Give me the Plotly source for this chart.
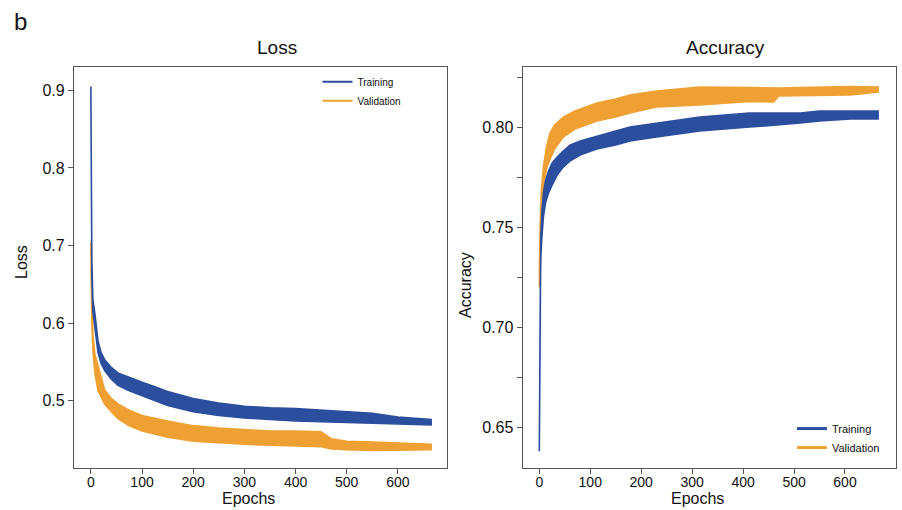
import plotly.graph_objects as go

# ---- data (band upper / lower edges) ----
tl_epochs = [0, 1, 2, 4, 8, 14, 20, 27, 40, 53, 75, 100, 125, 150, 200, 250, 300, 350, 400, 450, 500, 550, 600, 665]
tl_hi = [0.905, 0.76, 0.68, 0.63, 0.612, 0.577, 0.562, 0.553, 0.543, 0.536, 0.530, 0.524, 0.518, 0.512, 0.503,
         0.497, 0.493, 0.491, 0.490, 0.488, 0.486, 0.484, 0.479, 0.476]
tl_lo = [0.905, 0.74, 0.66, 0.615, 0.592, 0.562, 0.548, 0.539, 0.528, 0.520, 0.513, 0.506, 0.500, 0.494, 0.486,
         0.481, 0.478, 0.476, 0.474, 0.473, 0.472, 0.471, 0.470, 0.469]

vl_epochs = [0, 1, 2, 4, 8, 14, 20, 27, 40, 53, 75, 100, 150, 200, 250, 300, 350, 400, 450, 470, 500, 550, 600, 665]
vl_hi = [0.705, 0.66, 0.62, 0.585, 0.56, 0.545, 0.530, 0.514, 0.503, 0.496, 0.488, 0.481, 0.474, 0.468, 0.465,
         0.463, 0.461, 0.461, 0.460, 0.451, 0.448, 0.447, 0.446, 0.444]
vl_lo = [0.695, 0.64, 0.60, 0.565, 0.535, 0.513, 0.505, 0.496, 0.486, 0.477, 0.468, 0.461, 0.453, 0.448, 0.446,
         0.444, 0.443, 0.442, 0.441, 0.438, 0.437, 0.436, 0.436, 0.437]

ta_epochs = [0, 1, 2, 3, 5, 8, 12, 18, 25, 35, 47, 60, 80, 113, 150, 178, 230, 315, 413, 512, 550, 610, 665]
ta_hi = [0.638, 0.70, 0.73, 0.745, 0.757, 0.767, 0.773, 0.778, 0.782, 0.785, 0.788, 0.791, 0.793, 0.7955, 0.798,
         0.800, 0.802, 0.805, 0.807, 0.807, 0.808, 0.808, 0.808]
ta_lo = [0.638, 0.68, 0.72, 0.735, 0.745, 0.755, 0.762, 0.767, 0.771, 0.776, 0.780, 0.783, 0.786, 0.789, 0.791,
         0.793, 0.795, 0.798, 0.800, 0.802, 0.803, 0.804, 0.804]

va_epochs = [0, 1, 2, 4, 8, 14, 21, 30, 47, 70, 113, 150, 178, 230, 315, 413, 460, 470, 512, 610, 665]
va_hi = [0.726, 0.745, 0.755, 0.768, 0.780, 0.790, 0.797, 0.801, 0.805, 0.808, 0.812, 0.814, 0.816, 0.818, 0.820,
         0.8197, 0.8195, 0.8195, 0.8197, 0.8203, 0.820]
va_lo = [0.720, 0.735, 0.745, 0.758, 0.770, 0.779, 0.784, 0.789, 0.795, 0.799, 0.803, 0.805, 0.807, 0.810, 0.811,
         0.8128, 0.8125, 0.8155, 0.8155, 0.816, 0.8175]

x_ticks = [0, 100, 200, 300, 400, 500, 600]
loss_ticks = [0.5, 0.6, 0.7, 0.8, 0.9]
acc_ticks = [0.65, 0.70, 0.75, 0.80]

BLUE = "#2B4E9F"
ORANGE = "#EFA033"
FONT = "Liberation Sans, Arial, sans-serif"


def band(epochs, hi, lo, color, xa, ya):
    return go.Scatter(
        x=list(epochs) + list(epochs)[::-1],
        y=list(hi) + list(lo)[::-1],
        xaxis=xa, yaxis=ya, mode="lines", fill="toself", fillcolor=color,
        line=dict(color=color, width=1.6), showlegend=False, hoverinfo="skip",
    )


fig = go.Figure()
fig.add_trace(band(vl_epochs, vl_hi, vl_lo, ORANGE, "x", "y"))
fig.add_trace(band(tl_epochs, tl_hi, tl_lo, BLUE, "x", "y"))
fig.add_trace(band(va_epochs, va_hi, va_lo, ORANGE, "x2", "y2"))
fig.add_trace(band(ta_epochs, ta_hi, ta_lo, BLUE, "x2", "y2"))

# legend entries
fig.add_trace(go.Scatter(x=[None], y=[None], mode="lines", name="Training",
                         line=dict(color=BLUE, width=2), legend="legend", xaxis="x", yaxis="y"))
fig.add_trace(go.Scatter(x=[None], y=[None], mode="lines", name="Validation",
                         line=dict(color=ORANGE, width=2), legend="legend", xaxis="x", yaxis="y"))
fig.add_trace(go.Scatter(x=[None], y=[None], mode="lines", name="Training",
                         line=dict(color=BLUE, width=3), legend="legend2", xaxis="x2", yaxis="y2"))
fig.add_trace(go.Scatter(x=[None], y=[None], mode="lines", name="Validation",
                         line=dict(color=ORANGE, width=3), legend="legend2", xaxis="x2", yaxis="y2"))

axis_common = dict(showline=True, linecolor="#555555", linewidth=1.2, mirror=True,
                   ticks="outside", ticklen=5, tickcolor="#555555", showgrid=False, zeroline=False)

fig.update_layout(
    width=902, height=510,
    margin=dict(l=0, r=0, t=0, b=0),
    paper_bgcolor="white", plot_bgcolor="white",
    font=dict(family=FONT, color="#111111"),
    xaxis=dict(domain=[0.082, 0.4956], range=[-33, 696], tickvals=x_ticks,
               tickfont=dict(size=14), ticklabelstandoff=-4, anchor="y", **axis_common),
    yaxis=dict(domain=[0.0824, 0.8686], range=[0.4135, 0.93], tickvals=loss_ticks, tickformat=".1f",
               tickfont=dict(size=16), anchor="x", **axis_common),
    xaxis2=dict(domain=[0.5795, 0.993], range=[-32.6, 699.5], tickvals=x_ticks,
                tickfont=dict(size=14), ticklabelstandoff=-4, anchor="y2", **axis_common),
    yaxis2=dict(domain=[0.0824, 0.8686], range=[0.6297, 0.830], tickvals=acc_ticks, tickformat=".2f",
                tickfont=dict(size=16), anchor="x2",
                minor=dict(dtick=0.025, tick0=0.0, ticks="outside", ticklen=5, tickcolor="#555555"),
                **axis_common),
    legend=dict(x=0.352, y=0.868, xanchor="left", yanchor="top", bgcolor="rgba(0,0,0,0)",
                font=dict(size=10), itemwidth=30, tracegroupgap=0),
    legend2=dict(x=0.878, y=0.094, xanchor="left", yanchor="bottom", bgcolor="rgba(0,0,0,0)",
                 font=dict(size=11), itemwidth=30, tracegroupgap=0),
    annotations=[
        dict(text="b", x=20 / 902, y=1 - 22 / 510, xref="paper", yref="paper", showarrow=False,
             font=dict(size=24), xanchor="center", yanchor="middle"),
        dict(text="Loss", x=277 / 902, y=1 - 47 / 510, xref="paper", yref="paper", showarrow=False,
             font=dict(size=19), xanchor="center", yanchor="middle"),
        dict(text="Accuracy", x=725 / 902, y=1 - 47 / 510, xref="paper", yref="paper", showarrow=False,
             font=dict(size=19), xanchor="center", yanchor="middle"),
        dict(text="Loss", x=21 / 902, y=1 - 262 / 510, xref="paper", yref="paper", showarrow=False,
             font=dict(size=16), textangle=-90, xanchor="center", yanchor="middle"),
        dict(text="Accuracy", x=465 / 902, y=1 - 285 / 510, xref="paper", yref="paper", showarrow=False,
             font=dict(size=16), textangle=-90, xanchor="center", yanchor="middle"),
        dict(text="Epochs", x=248 / 902, y=1 - 498 / 510, xref="paper", yref="paper", showarrow=False,
             font=dict(size=16), xanchor="center", yanchor="middle"),
        dict(text="Epochs", x=697 / 902, y=1 - 498 / 510, xref="paper", yref="paper", showarrow=False,
             font=dict(size=16), xanchor="center", yanchor="middle"),
    ],
)

fig.write_html("out.html", config={"displayModeBar": False},
               post_script="document.body.style.margin='0px';document.body.style.overflow='hidden';")
